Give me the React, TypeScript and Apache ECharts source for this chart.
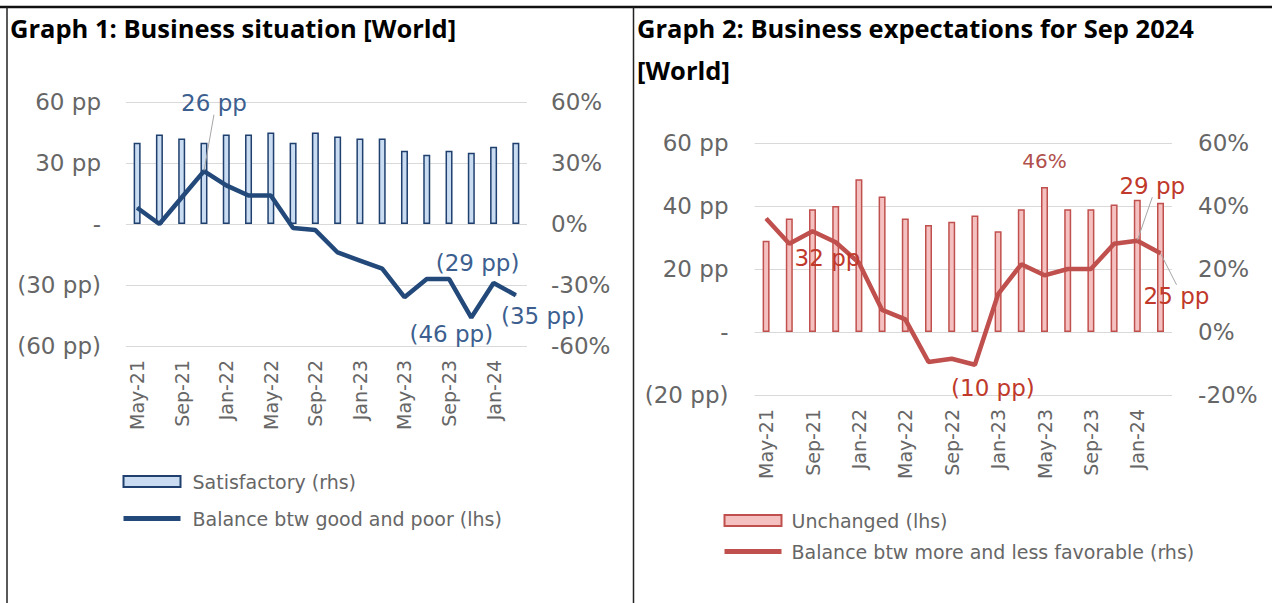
import React, { useEffect, useRef } from "react";
import * as echarts from "echarts";

const categories = [
  "May-21", "Jul-21", "Sep-21", "Nov-21", "Jan-22", "Mar-22", "May-22", "Jul-22", "Sep-22",
  "Nov-22", "Jan-23", "Mar-23", "May-23", "Jul-23", "Sep-23", "Nov-23", "Jan-24", "Mar-24",
];
// Graph 1
const satisfactory = [40, 44, 42, 40, 44, 44, 45, 40, 45, 43, 42, 42, 36, 34, 36, 35, 38, 40];
const balanceGoodPoor = [8, 0, 13, 26, 19, 14, 14, -2, -3, -14, -18, -22, -36, -27, -27, -46, -29, -35];
// Graph 2
const unchanged = [29, 36, 39, 40, 48.5, 43, 36, 34, 35, 37, 32, 39, 46, 39, 39, 40.5, 42, 41];
const balanceMoreLess = [36, 28, 32, 28.5, 22, 7, 4, -9.5, -8.5, -10.4, 12, 21.5, 18, 20, 20, 28, 29, 25];

const leftTicksPP = [-60, -30, 0, 30, 60];
const rightTicksPP = [-20, 0, 20, 40, 60];

const FONT = "'DejaVu Sans', sans-serif";
const TITLE_FONT = "bold 25.5px 'Open Sans', Lato, sans-serif";
const GRID_COLOR = "#d9d9d9";
const AXIS_TEXT = "#666666";

const fmtPP = (v: number) => {
  const r = Math.round(Math.abs(v));
  if (r === 0) return "-";
  return v < 0 ? `(${r} pp)` : `${r} pp`;
};

// label placement (offsets from the point)
const g1Labels: Record<number, [number, number, boolean]> = {
  3: [10, -68, true],
  15: [-20, 16, false],
  16: [-16, -20, false],
  17: [27, 21, false],
};
const g2Labels: Record<number, [number, number, boolean]> = {
  2: [15, 27, false],
  9: [18, 23, false],
  16: [15, -55, true],
  17: [16, 43, true],
};

export default function App() {
  const ref = useRef<HTMLDivElement>(null);
  useEffect(() => {
    if (!ref.current) return;
    const chart = echarts.init(ref.current, undefined, { renderer: "svg" });

    const yAxisPP = (gridIndex: number, min: number, max: number, interval: number, margin: number) => ({
      type: "value",
      gridIndex,
      min,
      max,
      interval,
      position: "left",
      axisLine: { show: false },
      axisTick: { show: false },
      splitLine: { show: true, lineStyle: { color: GRID_COLOR, width: 1 } },
      axisLabel: {
        fontSize: 23,
        color: AXIS_TEXT,
        fontFamily: FONT,
        margin,
        formatter: (v: number) => fmtPP(v),
      },
    });
    const yAxisPct = (gridIndex: number, min: number, max: number, interval: number, margin: number) => ({
      type: "value",
      gridIndex,
      min,
      max,
      interval,
      position: "right",
      axisLine: { show: false },
      axisTick: { show: false },
      splitLine: { show: false },
      axisLabel: {
        fontSize: 23,
        color: AXIS_TEXT,
        fontFamily: FONT,
        margin,
        formatter: (v: number) => `${v}%`,
      },
    });
    const xAxis = (gridIndex: number) => ({
      type: "category",
      gridIndex,
      data: categories,
      position: "bottom",
      axisLine: { show: false, onZero: false },
      axisTick: { show: false },
      axisLabel: {
        interval: 1,
        rotate: 90,
        fontSize: 19,
        color: AXIS_TEXT,
        fontFamily: FONT,
        margin: 14,
      },
    });

    const lineData = (vals: number[], labels: Record<number, [number, number, boolean]>) =>
      vals.map((v, i) => {
        const l = labels[i];
        if (!l) return { value: v, label: { show: false } };
        return {
          value: v,
          label: { show: true },
          labelLine: { show: l[2], lineStyle: { color: "#a6a6a6", width: 1 } },
        };
      });

    const hiddenSymbol = { color: "rgba(0,0,0,0)", borderWidth: 0, opacity: 0 };

    const option: any = {
      animation: false,
      backgroundColor: "#ffffff",
      grid: [
        { left: 126, top: 102, width: 401, height: 244 },
        { left: 754.5, top: 143, width: 417.6, height: 252 },
      ],
      xAxis: [xAxis(0), xAxis(1)],
      yAxis: [
        yAxisPP(0, leftTicksPP[0], leftTicksPP[leftTicksPP.length - 1], 30, 25),
        yAxisPct(0, -60, 60, 30, 24),
        yAxisPP(1, rightTicksPP[0], rightTicksPP[rightTicksPP.length - 1], 20, 26),
        yAxisPct(1, -20, 60, 20, 26),
      ],
      legend: [
        {
          data: [
            { name: "Satisfactory (rhs)", icon: "rect" },
            {
              name: "Balance btw good and poor (lhs)",
              itemStyle: hiddenSymbol,
              lineStyle: { width: 5, color: "#23497a" },
            },
          ],
          orient: "vertical",
          left: 121,
          top: 472,
          padding: 0,
          itemWidth: 57,
          itemHeight: 11,
          itemGap: 18,
          textStyle: { fontSize: 19, color: AXIS_TEXT, fontFamily: FONT, padding: [0, 0, 0, 7] },
        },
        {
          data: [
            { name: "Unchanged (lhs)", icon: "rect" },
            {
              name: "Balance btw more and less favorable (rhs)",
              itemStyle: hiddenSymbol,
              lineStyle: { width: 5, color: "#c0504d" },
            },
          ],
          orient: "vertical",
          left: 722,
          top: 511,
          padding: 0,
          itemWidth: 57,
          itemHeight: 11,
          itemGap: 12,
          textStyle: { fontSize: 19, color: AXIS_TEXT, fontFamily: FONT, padding: [0, 0, 0, 5] },
        },
      ],
      series: [
        {
          name: "Satisfactory (rhs)",
          type: "bar",
          xAxisIndex: 0,
          yAxisIndex: 1,
          data: satisfactory,
          barWidth: 7,
          itemStyle: { color: "#c9dcf2", borderColor: "#1f3f6e", borderWidth: 1.5 },
        },
        {
          name: "Balance btw good and poor (lhs)",
          type: "line",
          xAxisIndex: 0,
          yAxisIndex: 0,
          data: lineData(balanceGoodPoor, g1Labels),
          symbol: "circle",
          symbolSize: 1,
          showSymbol: true,
          itemStyle: { color: "#23497a" },
          lineStyle: { color: "#23497a", width: 4.5 },
          label: {
            position: "inside",
            fontSize: 23,
            fontFamily: FONT,
            color: "#3d5f8f",
            formatter: (p: any) => fmtPP(p.value),
          },
          labelLayout: (p: any) => {
            const l = g1Labels[p.dataIndex];
            return l ? { dx: l[0], dy: l[1] } : {};
          },
          z: 3,
        },
        {
          name: "Unchanged (lhs)",
          type: "bar",
          xAxisIndex: 1,
          yAxisIndex: 2,
          data: unchanged.map((v, i) =>
            i === 12
              ? {
                  value: v,
                  label: {
                    show: true,
                    position: "top",
                    distance: 16,
                    fontSize: 20,
                    fontFamily: FONT,
                    color: "#b0504c",
                    formatter: (p: any) => `${Math.round(p.value)}%`,
                  },
                }
              : v
          ),
          barWidth: 7,
          itemStyle: { color: "#f4c0c0", borderColor: "#c0504d", borderWidth: 1.5 },
        },
        {
          name: "Balance btw more and less favorable (rhs)",
          type: "line",
          xAxisIndex: 1,
          yAxisIndex: 3,
          data: lineData(balanceMoreLess, g2Labels),
          symbol: "circle",
          symbolSize: 1,
          showSymbol: true,
          itemStyle: { color: "#c0504d" },
          lineStyle: { color: "#c0504d", width: 4.5 },
          label: {
            position: "inside",
            fontSize: 23,
            fontFamily: FONT,
            color: "#c0392b",
            formatter: (p: any) => fmtPP(p.value),
          },
          labelLayout: (p: any) => {
            const l = g2Labels[p.dataIndex];
            return l ? { dx: l[0], dy: l[1] } : {};
          },
          z: 3,
        },
      ],
      graphic: [
        { type: "line", shape: { x1: 0, y1: 7, x2: 1272, y2: 7 }, style: { stroke: "#111", lineWidth: 2.5 } },
        { type: "line", shape: { x1: 7, y1: 7, x2: 7, y2: 603 }, style: { stroke: "#222", lineWidth: 1.5 } },
        { type: "line", shape: { x1: 633.5, y1: 7, x2: 633.5, y2: 603 }, style: { stroke: "#222", lineWidth: 1.5 } },
        {
          type: "text",
          left: 10,
          top: 15,
          style: { text: "Graph 1: Business situation [World]", font: TITLE_FONT, fill: "#000" },
        },
        {
          type: "text",
          left: 637,
          top: 15,
          style: { text: "Graph 2: Business expectations for Sep 2024", font: TITLE_FONT, fill: "#000" },
        },
        {
          type: "text",
          left: 637,
          top: 57,
          style: { text: "[World]", font: TITLE_FONT, fill: "#000" },
        },
      ],
    };
    chart.setOption(option);
    return () => chart.dispose();
  }, []);
  return (
    <div
      ref={ref}
      style={{ position: "absolute", left: 0, top: 0, width: 1272, height: 603, background: "#fff" }}
    />
  );
}
